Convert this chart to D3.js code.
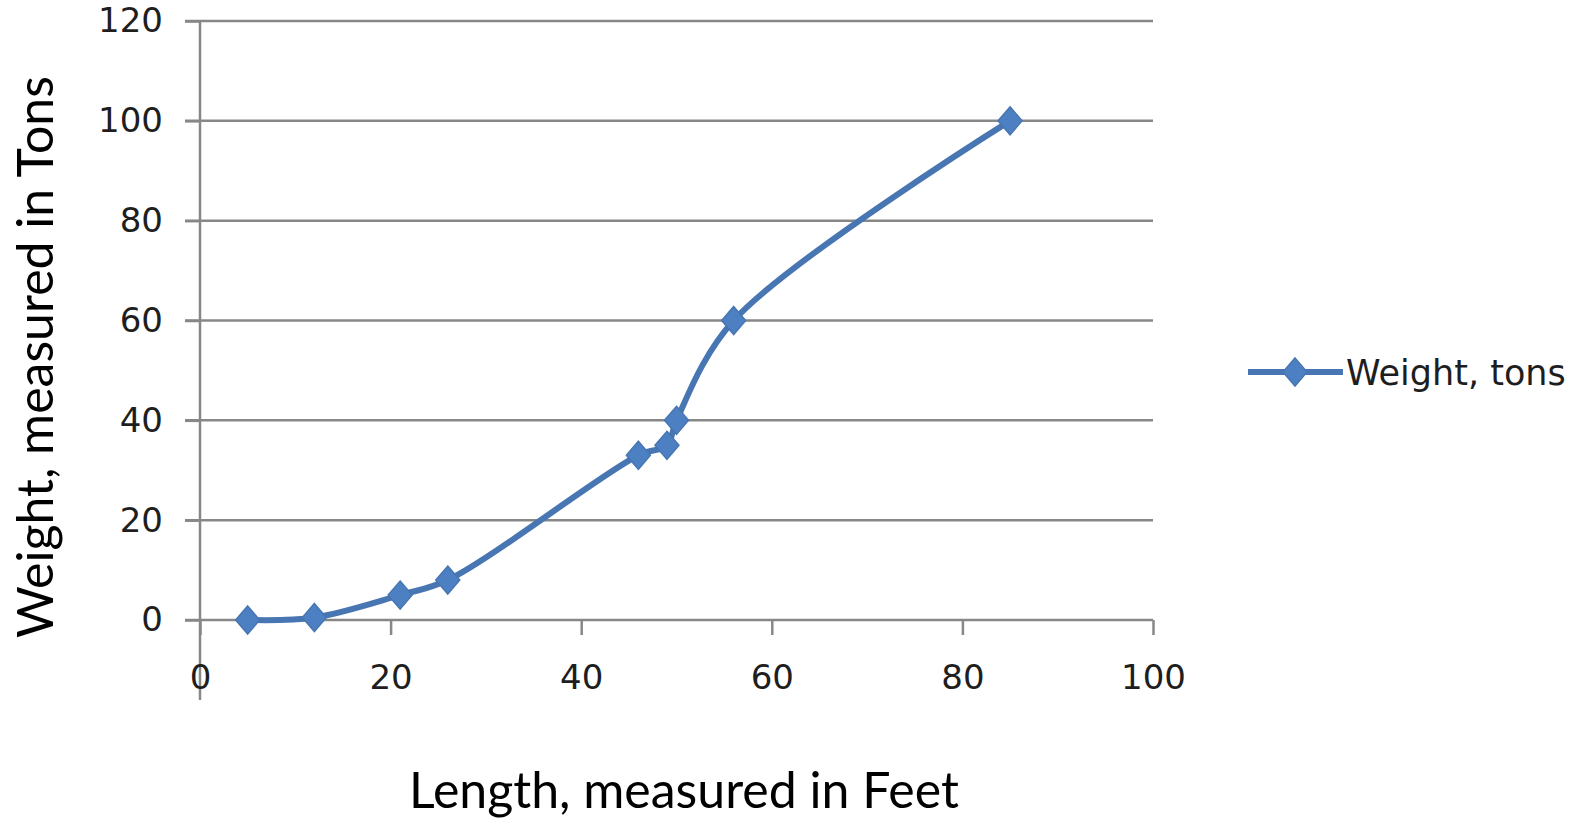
<!DOCTYPE html>
<html>
<head>
<meta charset="utf-8">
<script src="https://cdn.jsdelivr.net/npm/d3@7"></script>
<style>
  html, body { margin: 0; padding: 0; background: #fff; }
  svg { display: block; }
</style>
</head>
<body>
<svg id="chart" width="1584" height="821"></svg>
<script>
// Length (feet) vs weight (tons)
const lengthFeet = [5, 12, 21, 26, 46, 49, 50, 56, 85];
const weightTons = [0, 0.5, 5, 8, 33, 35, 40, 60, 100];
const xTicks = [0, 20, 40, 60, 80, 100];
const yTicks = [0, 20, 40, 60, 80, 100, 120];
const seriesName = "Weight, tons";
const xTitle = "Length, measured in Feet";
const yTitle = "Weight, measured in Tons";

const svg = d3.select("#chart");
const plot = { left: 200, right: 1153, top: 21, bottom: 620 };

const x = d3.scaleLinear().domain([0, 100]).range([plot.left, plot.right]);
const y = d3.scaleLinear().domain([0, 120]).range([plot.bottom, plot.top]);

const gridColor = "#878787";
const lineColor = "#4876b2";
const markColor = "#4c80c2";
const tickFont = "'DejaVu Sans', Verdana, sans-serif";
const tickSize = 34;

// horizontal gridlines
svg.append("g")
  .selectAll("line")
  .data(yTicks)
  .join("line")
  .attr("x1", plot.left - 15)
  .attr("x2", plot.right)
  .attr("y1", d => y(d))
  .attr("y2", d => y(d))
  .attr("stroke", gridColor)
  .attr("stroke-width", 2.5);

// vertical axis line (runs past the baseline)
svg.append("line")
  .attr("x1", plot.left).attr("x2", plot.left)
  .attr("y1", plot.top).attr("y2", 700)
  .attr("stroke", gridColor)
  .attr("stroke-width", 2.5);

// y axis labels
const yAxis = svg.append("g")
  .attr("transform", `translate(${plot.left},0)`)
  .call(d3.axisLeft(y).tickValues(yTicks).tickSize(15).tickPadding(22));
yAxis.select(".domain").remove();
yAxis.selectAll(".tick line").attr("stroke", gridColor).attr("stroke-width", 2.5);
yAxis.selectAll(".tick text")
  .attr("font-family", tickFont).attr("font-size", tickSize).attr("fill", "#1e1e1e");

// x axis
const xAxis = svg.append("g")
  .attr("transform", `translate(0,${plot.bottom})`)
  .call(d3.axisBottom(x).tickValues(xTicks).tickSize(15).tickPadding(30));
xAxis.select(".domain").remove();
xAxis.selectAll(".tick line").attr("stroke", gridColor).attr("stroke-width", 2.5);
xAxis.selectAll(".tick text")
  .attr("font-family", tickFont).attr("font-size", tickSize).attr("fill", "#1e1e1e");

// smoothed series line
const pts = lengthFeet.map((l, i) => [l, weightTons[i]]);
const line = d3.line()
  .x(d => x(d[0]))
  .y(d => y(d[1]))
  .curve(d3.curveCatmullRom.alpha(0.5));

svg.append("path")
  .datum(pts)
  .attr("d", line)
  .attr("fill", "none")
  .attr("stroke", lineColor)
  .attr("stroke-width", 6)
  .attr("stroke-linejoin", "round");

// diamond markers
const diamond = "M0,-14L12,0L0,14L-12,0Z";
svg.append("g")
  .selectAll("path")
  .data(pts)
  .join("path")
  .attr("transform", d => `translate(${x(d[0])},${y(d[1])})`)
  .attr("d", diamond)
  .attr("fill", markColor)
  .attr("stroke", lineColor)
  .attr("stroke-width", 1.5);

// legend
const lg = svg.append("g").attr("transform", "translate(1248,372)");
lg.append("line").attr("x1", 0).attr("x2", 95).attr("y1", 0).attr("y2", 0)
  .attr("stroke", lineColor).attr("stroke-width", 6);
lg.append("path").attr("d", diamond).attr("transform", "translate(47,0)")
  .attr("fill", markColor).attr("stroke", lineColor).attr("stroke-width", 1.5);
lg.append("text")
  .attr("x", 98).attr("y", 0).attr("dy", "0.36em")
  .attr("font-family", tickFont).attr("font-size", 35).attr("fill", "#1e1e1e")
  .text(seriesName);

// axis titles
const titleFont = "Lato, 'Open Sans', sans-serif";
svg.append("text")
  .attr("x", 684).attr("y", 808)
  .attr("text-anchor", "middle")
  .attr("font-family", titleFont).attr("font-size", 50).attr("fill", "#000")
  .text(xTitle);

svg.append("text")
  .attr("transform", "translate(53,357) rotate(-90)")
  .attr("text-anchor", "middle")
  .attr("font-family", titleFont).attr("font-size", 50).attr("fill", "#000")
  .text(yTitle);
</script>
</body>
</html>
